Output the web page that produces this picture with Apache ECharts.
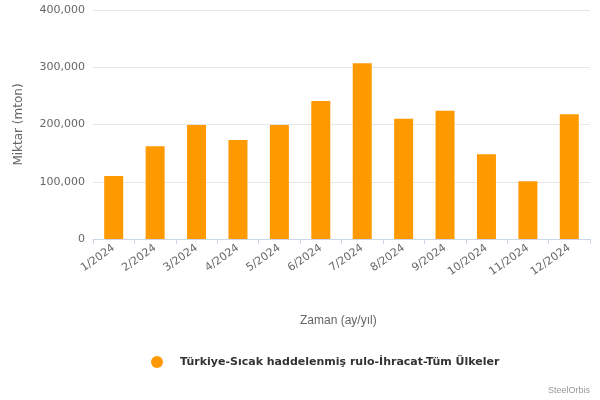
<!DOCTYPE html>
<html>
<head>
<meta charset="utf-8">
<script src="https://cdn.jsdelivr.net/npm/echarts@6/dist/echarts.min.js"></script>
<style>html,body{margin:0;padding:0;background:#fff}#chart{width:600px;height:400px}</style>
</head>
<body>
<div id="chart"></div>
<script>
var months = ['1/2024','2/2024','3/2024','4/2024','5/2024','6/2024','7/2024','8/2024','9/2024','10/2024','11/2024','12/2024'];
var values = [110000,162000,199000,173000,199000,241000,307000,210000,224000,148000,101000,218000];
var seriesName = 'Türkiye-Sıcak haddelenmiş rulo-İhracat-Tüm Ülkeler';

var myChart = echarts.init(document.getElementById('chart'));
myChart.setOption({
    textStyle: {fontFamily: 'DejaVu Sans'},
    grid: {left: 93, right: 10, top: 10, bottom: 161},
    graphic: [
        {type: 'text', left: 300, top: 315, style: {text: 'Zaman (ay/yıl)', fontSize: 12, fill: '#666'}},
        {type: 'text', right: 10, top: 386, style: {text: 'SteelOrbis', fontSize: 9, fill: '#999'}}
    ],
    legend: {
        bottom: 27, left: 146, icon: 'circle', itemWidth: 12, itemHeight: 12, itemGap: 10,
        textStyle: {fontSize: 11, fontWeight: 'bold', color: '#333', padding: [0, 0, 0, 12]}
    },
    xAxis: {
        type: 'category', data: months,
        axisLine: {lineStyle: {color: '#ccd6eb'}},
        axisTick: {show: true, lineStyle: {color: '#ccd6eb'}},
        axisLabel: {rotate: 35, color: '#666', fontSize: 11, margin: 8}
    },
    yAxis: {
        type: 'value', min: 0, max: 400000, interval: 100000,
        name: 'Miktar (mton)', nameLocation: 'middle', nameGap: 68,
        nameTextStyle: {color: '#666', fontSize: 12},
        axisLabel: {color: '#666', fontSize: 11, formatter: function (v) { return v.toLocaleString('en-US'); }},
        splitLine: {lineStyle: {color: '#e6e6e6'}}
    },
    series: [{
        name: seriesName, type: 'bar', data: values, barWidth: 19,
        itemStyle: {color: '#ff9900'}
    }]
});
</script>
</body>
</html>
